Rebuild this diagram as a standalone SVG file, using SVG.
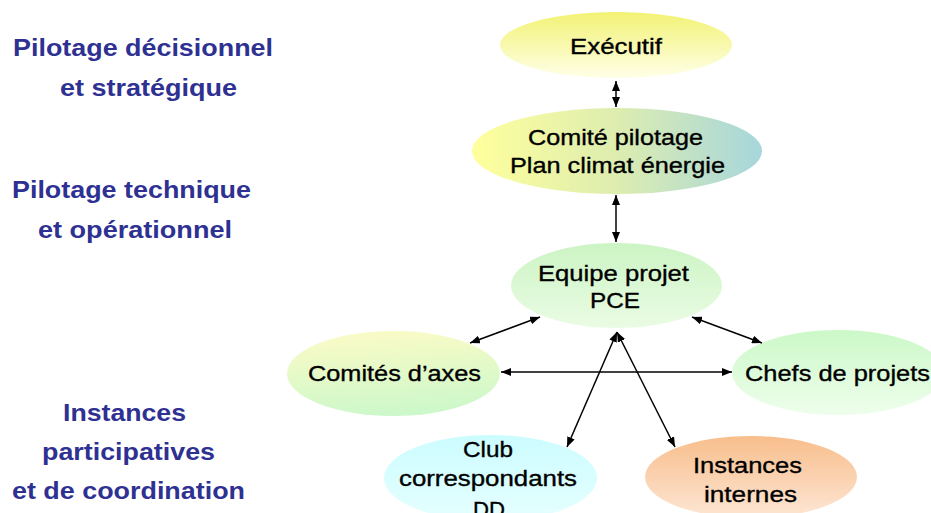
<svg xmlns="http://www.w3.org/2000/svg" width="931" height="513" viewBox="0 0 931 513">
  <defs>
    <linearGradient id="gExec" x1="0" y1="0" x2="0" y2="1">
      <stop offset="0" stop-color="#F2F274"/>
      <stop offset="1" stop-color="#FFFFE8"/>
    </linearGradient>
    <linearGradient id="gComite" x1="0" y1="0" x2="1" y2="0">
      <stop offset="0" stop-color="#FFFF9C"/>
      <stop offset="0.5" stop-color="#DDEDB0"/>
      <stop offset="1" stop-color="#A6D6DC"/>
    </linearGradient>
    <linearGradient id="gEquipe" x1="0" y1="0" x2="0" y2="1">
      <stop offset="0" stop-color="#CCF4C4"/>
      <stop offset="1" stop-color="#EAFCE4"/>
    </linearGradient>
    <linearGradient id="gAxes" x1="0.3" y1="0" x2="0.5" y2="1">
      <stop offset="0" stop-color="#FBFBC6"/>
      <stop offset="1" stop-color="#CCF8CA"/>
    </linearGradient>
    <linearGradient id="gChefs" x1="0" y1="0" x2="0" y2="1">
      <stop offset="0" stop-color="#CCF8C8"/>
      <stop offset="1" stop-color="#EEFEEC"/>
    </linearGradient>
    <linearGradient id="gClub" x1="0" y1="0" x2="0" y2="1">
      <stop offset="0" stop-color="#CCFCFF"/>
      <stop offset="1" stop-color="#E6FFFF"/>
    </linearGradient>
    <linearGradient id="gInst" x1="0" y1="0" x2="0" y2="1">
      <stop offset="0" stop-color="#F8BE8C"/>
      <stop offset="1" stop-color="#FDE6D4"/>
    </linearGradient>
    <marker id="arr" viewBox="0 0 10 8" refX="10" refY="4" markerWidth="10" markerHeight="8" markerUnits="userSpaceOnUse" orient="auto-start-reverse">
      <path d="M0,0 L10,4 L0,8 z" fill="#000"/>
    </marker>
  </defs>
  <style>
    .lbl { font-family: "Liberation Sans", Arial, sans-serif; font-weight: bold; font-size: 24px; fill: #2E3192; }
    .nt { font-family: "Liberation Sans", Arial, sans-serif; font-size: 22px; fill: #000; stroke: #000; stroke-width: 0.35; text-anchor: middle; }
    .cn { stroke: #000; stroke-width: 1.5; fill: none; marker-start: url(#arr); marker-end: url(#arr); }
  </style>

  <g id="labels">
    <text class="lbl" x="13" y="56" textLength="260" lengthAdjust="spacingAndGlyphs">Pilotage décisionnel</text>
    <text class="lbl" x="60" y="96" textLength="177" lengthAdjust="spacingAndGlyphs">et stratégique</text>
    <text class="lbl" x="12" y="198" textLength="239" lengthAdjust="spacingAndGlyphs">Pilotage technique</text>
    <text class="lbl" x="38" y="238" textLength="194" lengthAdjust="spacingAndGlyphs">et opérationnel</text>
    <text class="lbl" x="63" y="421" textLength="123" lengthAdjust="spacingAndGlyphs">Instances</text>
    <text class="lbl" x="42" y="460" textLength="173" lengthAdjust="spacingAndGlyphs">participatives</text>
    <text class="lbl" x="12" y="499" textLength="233" lengthAdjust="spacingAndGlyphs">et de coordination</text>
  </g>

  <g id="executif">
    <ellipse cx="616" cy="45" rx="116" ry="33" fill="url(#gExec)"/>
    <text class="nt" x="616" y="54" textLength="92" lengthAdjust="spacingAndGlyphs">Exécutif</text>
  </g>

  <g id="comite-pilotage">
    <ellipse cx="617" cy="151" rx="145" ry="43" fill="url(#gComite)"/>
    <text class="nt" x="615.5" y="145" textLength="175" lengthAdjust="spacingAndGlyphs">Comité pilotage</text>
    <text class="nt" x="617.5" y="173" textLength="215" lengthAdjust="spacingAndGlyphs">Plan climat énergie</text>
  </g>

  <g id="equipe-projet">
    <ellipse cx="616.5" cy="285.5" rx="105.5" ry="42.5" fill="url(#gEquipe)"/>
    <text class="nt" x="613.5" y="281" textLength="151" lengthAdjust="spacingAndGlyphs">Equipe projet</text>
    <text class="nt" x="615" y="308" textLength="50" lengthAdjust="spacingAndGlyphs">PCE</text>
  </g>

  <g id="comites-axes">
    <ellipse cx="393.5" cy="373.5" rx="106.5" ry="42.5" fill="url(#gAxes)"/>
    <text class="nt" x="394.5" y="381" textLength="173" lengthAdjust="spacingAndGlyphs">Comités d’axes</text>
  </g>

  <g id="chefs-projets">
    <ellipse cx="838" cy="372.5" rx="106" ry="42.5" fill="url(#gChefs)"/>
    <text class="nt" x="837.5" y="381" textLength="185" lengthAdjust="spacingAndGlyphs">Chefs de projets</text>
  </g>

  <g id="club-dd">
    <ellipse cx="490.5" cy="478" rx="106.5" ry="43" fill="url(#gClub)"/>
    <text class="nt" x="488" y="457" textLength="50" lengthAdjust="spacingAndGlyphs">Club</text>
    <text class="nt" x="488" y="486" textLength="178" lengthAdjust="spacingAndGlyphs">correspondants</text>
    <text class="nt" x="489" y="517" textLength="32" lengthAdjust="spacingAndGlyphs">DD</text>
  </g>

  <g id="instances-internes">
    <ellipse cx="751" cy="477" rx="106" ry="41" fill="url(#gInst)"/>
    <text class="nt" x="747.5" y="473" textLength="109" lengthAdjust="spacingAndGlyphs">Instances</text>
    <text class="nt" x="750.5" y="502" textLength="93" lengthAdjust="spacingAndGlyphs">internes</text>
  </g>

  <g id="connectors">
    <line class="cn" x1="616" y1="81" x2="616" y2="107"/>
    <line class="cn" x1="616" y1="195" x2="616" y2="242"/>
    <line class="cn" x1="470" y1="343" x2="540" y2="317"/>
    <line class="cn" x1="692" y1="317" x2="762" y2="343"/>
    <line class="cn" x1="501" y1="372" x2="732" y2="372"/>
    <line class="cn" x1="617" y1="332" x2="567" y2="447"/>
    <line class="cn" x1="617" y1="332" x2="675" y2="447"/>
  </g>
</svg>
